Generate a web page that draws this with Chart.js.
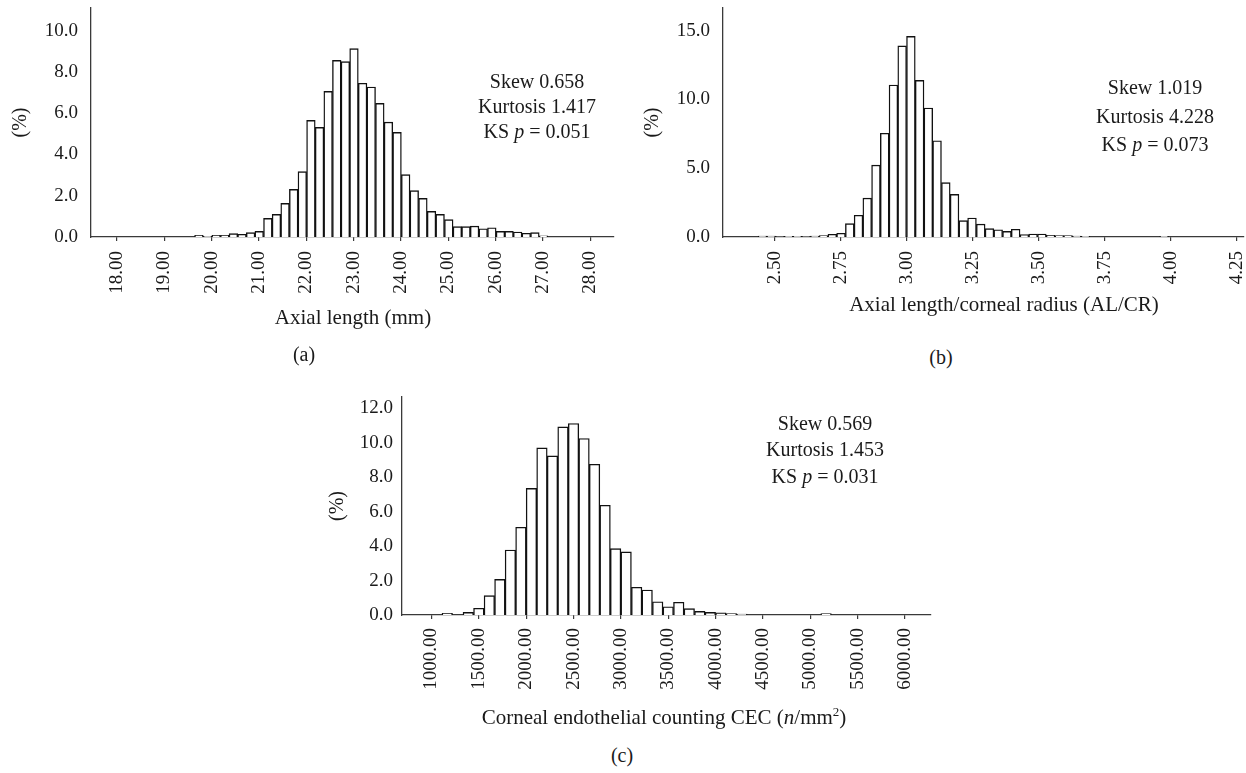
<!DOCTYPE html>
<html>
<head>
<meta charset="utf-8">
<script src="https://cdn.jsdelivr.net/npm/chart.js@4.4.1/dist/chart.umd.min.js"></script>
<style>
  body { margin: 0; background: #fff; }
  #wrap { position: relative; width: 1246px; height: 773px; overflow: hidden; font-family: "Liberation Serif", "Times New Roman", serif; color: #1a1a1a; }
  canvas { position: absolute; }
  .txt { position: absolute; transform: translateX(-50%); white-space: nowrap; text-align: center; }
  .stat { font-size: 20px; }
  .xt { font-size: 21px; line-height: 21px; }
  .cap { font-size: 20px; line-height: 20px; }
</style>
</head>
<body>
<div id="wrap">
  <canvas id="histA" width="620" height="320" style="left:0px;top:0px"></canvas>
  <canvas id="histB" width="626" height="320" style="left:620px;top:0px"></canvas>
  <canvas id="histC" width="620" height="350" style="left:320px;top:380px"></canvas>

  <div class="txt stat" style="left:537px;top:69px;line-height:25px">Skew 0.658<br>Kurtosis 1.417<br>KS <i>p</i> = 0.051</div>
  <div class="txt stat" style="left:1155px;top:73px;line-height:28.7px">Skew 1.019<br>Kurtosis 4.228<br>KS <i>p</i> = 0.073</div>
  <div class="txt stat" style="left:825px;top:410px;line-height:26.3px">Skew 0.569<br>Kurtosis 1.453<br>KS <i>p</i> = 0.031</div>

  <div class="txt xt" style="left:353px;top:307px">Axial length (mm)</div>
  <div class="txt xt" style="left:1004px;top:294px">Axial length/corneal radius (AL/CR)</div>
  <div class="txt xt" style="left:664px;top:707px">Corneal endothelial counting CEC (<i>n</i>/mm<sup style="font-size:13px;line-height:0">2</sup>)</div>

  <div class="txt cap" style="left:304px;top:344px">(a)</div>
  <div class="txt cap" style="left:941px;top:347px">(b)</div>
  <div class="txt cap" style="left:622px;top:745px">(c)</div>
</div>

<script>
// histogram bins: first bin left edge and bin width
const aStart = 19.64, aWidth = 0.182
const bStart = 2.436, bWidth = 0.0331
const cStart = 1111.1, cWidth = 111.1

// percentages per bin
const aPct = [0.08, 0.03, 0.08, 0.08, 0.16, 0.13, 0.21, 0.27, 0.90, 1.10, 1.63, 2.31, 3.17,
  5.65, 5.31, 7.06, 8.56, 8.50, 9.13, 7.45, 7.27, 6.48, 5.57, 5.07, 3.02, 2.25, 1.87, 1.24,
  1.10, 0.84, 0.50, 0.50, 0.53, 0.40, 0.45, 0.27, 0.27, 0.24, 0.18, 0.21, 0.06]
const bPct = [0.07, 0.07, 0.02, 0.05, 0.05, 0.03, 0.07, 0.10, 0.20, 0.27, 0.97, 1.58, 2.83,
  5.23, 7.54, 11.05, 13.90, 14.59, 11.39, 9.38, 7.00, 3.95, 3.10, 1.19, 1.38, 0.94, 0.61,
  0.53, 0.41, 0.56, 0.17, 0.22, 0.22, 0.12, 0.10, 0.10, 0.07, 0.05, 0, 0, 0, 0, 0, 0, 0, 0, 0.05]
const cPct = [0.10, 0, 0.15, 0.39, 1.12, 2.07, 3.77, 5.09, 7.35, 9.70, 9.23, 10.92, 11.11,
  10.24, 8.75, 6.37, 3.85, 3.66, 1.61, 1.45, 0.77, 0.48, 0.74, 0.37, 0.21, 0.15, 0.12, 0.08,
  0.06, 0, 0, 0, 0, 0, 0, 0, 0.08]

// tick labels
const aXTicks = [18, 19, 20, 21, 22, 23, 24, 25, 26, 27, 28]
const bXTicks = [2.50, 2.75, 3.00, 3.25, 3.50, 3.75, 4.00, 4.25]
const cXTicks = [1000, 1500, 2000, 2500, 3000, 3500, 4000, 4500, 5000, 5500, 6000]
const aYTicks = [0, 2, 4, 6, 8, 10]
const bYTicks = [0, 5, 10, 15]
const cYTicks = [0, 2, 4, 6, 8, 10, 12]

const serif = '"Liberation Serif", "Times New Roman", serif'
const axisCol = '#3a3a3a'

const toPoints = (start, w, vals) => vals.map((v, i) => ({ x: start + w * (i + 0.5), y: v }))

function hist(id, points, xTicks, yTicks, o) {
  return new Chart(document.getElementById(id), {
    type: 'bar',
    data: {
      datasets: [{
        data: points,
        backgroundColor: '#ffffff',
        borderColor: '#111111',
        borderWidth: 1.4,
        borderSkipped: 'bottom',
        barPercentage: 1,
        categoryPercentage: 1
      }]
    },
    options: {
      responsive: false,
      animation: false,
      events: [],
      layout: { padding: { top: o.padTop, right: o.padRight, left: 0, bottom: 0 } },
      plugins: { legend: { display: false }, tooltip: { enabled: false } },
      scales: {
        x: {
          type: 'linear',
          offset: false,
          min: o.xMin, max: o.xMax,
          afterBuildTicks: s => { s.ticks = xTicks.map(v => ({ value: v })) },
          afterFit: s => { s.height = o.xHeight; s.paddingLeft = 0; s.paddingRight = 0 },
          grid: { offset: false, drawOnChartArea: false, drawTicks: true, tickLength: 4, color: axisCol, lineWidth: 1.2 },
          border: { display: true, color: axisCol, width: 1.3 },
          ticks: {
            minRotation: 90, maxRotation: 90, autoSkip: false,
            padding: o.xPad, color: '#1a1a1a',
            font: { family: serif, size: 19 },
            callback: v => v.toFixed(2)
          }
        },
        y: {
          min: 0, max: o.yMax,
          afterBuildTicks: s => { s.ticks = yTicks.map(v => ({ value: v })) },
          afterFit: s => { s.width = o.yWidth; s.paddingTop = 0; s.paddingBottom = 0 },
          grid: { display: false, drawTicks: false },
          border: { display: true, color: axisCol, width: 1.3 },
          ticks: {
            padding: o.yPad, color: '#1a1a1a',
            font: { family: serif, size: 19 },
            callback: v => v.toFixed(1)
          },
          title: {
            display: true, text: '(%)', color: '#1a1a1a',
            font: { family: serif, size: 20 },
            padding: { top: o.titlePad, bottom: 0 }
          }
        }
      }
    }
  })
}

hist('histA', toPoints(aStart, aWidth, aPct), aXTicks, aYTicks,
  { xMin: 17.451, xMax: 28.50, yMax: 11.1, padTop: 8, padRight: 6, xHeight: 83, yWidth: 91, xPad: 10, yPad: 13, titlePad: 9 })

hist('histB', toPoints(bStart, bWidth, bPct), bXTicks, bYTicks,
  { xMin: 2.303, xMax: 4.278, yMax: 16.65, padTop: 8, padRight: 2, xHeight: 83, yWidth: 103, xPad: 10, yPad: 13, titlePad: 21 })

hist('histC', toPoints(cStart, cWidth, cPct), cXTicks, cYTicks,
  { xMin: 689, xMax: 6274, yMax: 12.65, padTop: 17, padRight: 9, xHeight: 115, yWidth: 82, xPad: 9, yPad: 9, titlePad: 6 })
</script>
</body>
</html>
